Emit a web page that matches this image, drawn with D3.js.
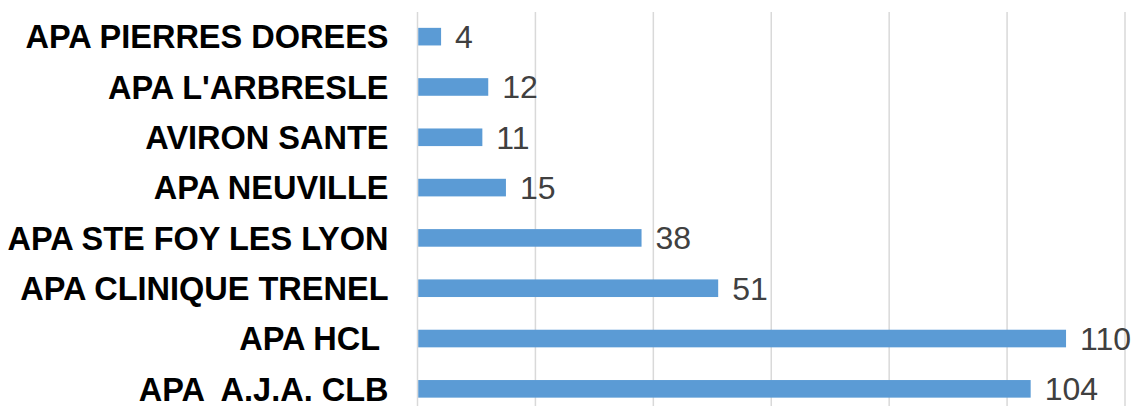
<!DOCTYPE html>
<html>
<head>
<meta charset="utf-8">
<script src="https://cdn.jsdelivr.net/npm/d3@7"></script>
<style>
  html, body { margin: 0; padding: 0; background: #fff; }
  svg text { white-space: pre; }
</style>
</head>
<body>
<svg id="chart" width="1141" height="406"></svg>
<script>
const categories = ["APA PIERRES DOREES", "APA L'ARBRESLE", "AVIRON SANTE", "APA NEUVILLE", "APA STE FOY LES LYON", "APA CLINIQUE TRENEL", "APA HCL ", "APA  A.J.A. CLB"];
const values = [4, 12, 11, 15, 38, 51, 110, 104];
const gridTicks = [0, 20, 40, 60, 80, 100, 120];

(function () {
const svg = d3.select("#chart");
const plotLeft = 417.5, plotRight = 1125, plotTop = 11.5, plotBottom = 414;

const x = d3.scaleLinear().domain([0, 120]).range([plotLeft, plotRight]);
const y = d3.scaleBand().domain(categories).range([plotTop, plotBottom]).paddingInner(0.65).paddingOuter(0.325);

// gridlines
svg.append("g").selectAll("line").data(gridTicks).join("line")
  .attr("x1", d => x(d)).attr("x2", d => x(d))
  .attr("y1", 12).attr("y2", 406)
  .attr("stroke", "#D9D9D9").attr("stroke-width", 1.5);

// bars
svg.append("g").selectAll("rect").data(values).join("rect")
  .attr("x", x(0) + 0.75)
  .attr("y", (d, i) => y(categories[i]))
  .attr("width", d => x(d) - x(0) - 0.75)
  .attr("height", y.bandwidth())
  .attr("fill", "#5B9BD5");

// value labels
svg.append("g").selectAll("text").data(values).join("text")
  .attr("x", d => x(d) + 14)
  .attr("y", (d, i) => y(categories[i]) + y.bandwidth() / 2)
  .attr("dy", "0.36em")
  .attr("font-family", "Liberation Sans, Arial, sans-serif")
  .attr("font-size", "32px")
  .attr("fill", "#404040")
  .text(d => d);

// category labels
svg.append("g").selectAll("text").data(categories).join("text")
  .attr("x", 388.5)
  .attr("y", d => y(d) + y.bandwidth() / 2)
  .attr("dy", "0.36em")
  .attr("text-anchor", "end")
  .attr("font-family", "Liberation Sans, Arial, sans-serif")
  .attr("font-weight", "bold")
  .attr("font-size", "32.5px")
  .attr("fill", "#000")
  .text(d => d);
})();
</script>
</body>
</html>
